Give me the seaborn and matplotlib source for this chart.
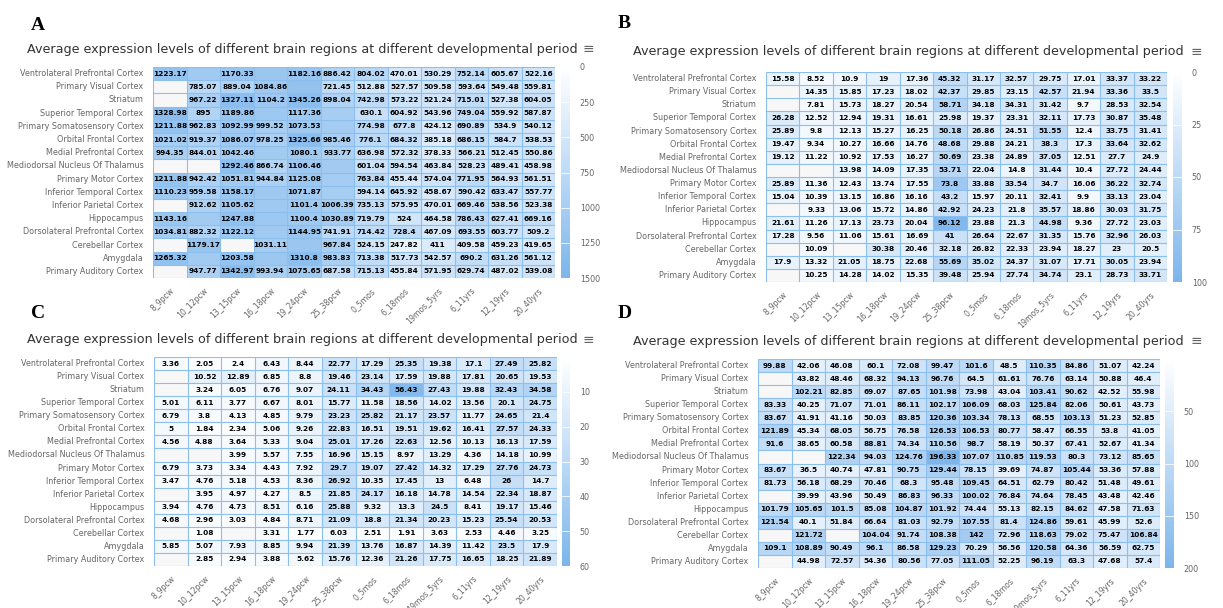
import numpy as np
import pandas as pd
import matplotlib
matplotlib.use("Agg")
import matplotlib.pyplot as plt
import seaborn as sns
from matplotlib.colors import LinearSegmentedColormap

N = np.nan

regions = [
    "Ventrolateral Prefrontal Cortex", "Primary Visual Cortex", "Striatum",
    "Superior Temporal Cortex", "Primary Somatosensory Cortex", "Orbital Frontal Cortex",
    "Medial Prefrontal Cortex", "Mediodorsal Nucleus Of Thalamus", "Primary Motor Cortex",
    "Inferior Temporal Cortex", "Inferior Parietal Cortex", "Hippocampus",
    "Dorsolateral Prefrontal Cortex", "Cerebellar Cortex", "Amygdala",
    "Primary Auditory Cortex",
]
periods = ["8_9pcw", "10_12pcw", "13_15pcw", "16_18pcw", "19_24pcw", "25_38pcw",
           "0_5mos", "6_18mos", "19mos_5yrs", "6_11yrs", "12_19yrs", "20_40yrs"]

title_text = "Average expression levels of different brain regions at different developmental period"

a_values = [
    [1223.17, 1080.00, 1170.33, 1150.00, 1182.16, 886.42, 804.02, 470.01, 530.29, 752.14, 605.67, 522.16],
    [N, 785.07, 889.04, 1084.86, 1230.00, 721.45, 512.88, 527.57, 509.58, 593.64, 549.48, 559.81],
    [N, 967.22, 1327.11, 1104.2, 1345.26, 898.04, 742.98, 573.22, 521.24, 715.01, 527.38, 604.05],
    [1328.98, 895, 1189.86, 1120.00, 1117.36, 1010.00, 630.1, 604.92, 543.96, 749.04, 559.92, 587.87],
    [1211.88, 962.83, 1092.99, 999.52, 1073.53, 1040.00, 774.98, 677.8, 424.12, 690.89, 534.9, 540.12],
    [1021.02, 919.37, 1086.07, 978.25, 1325.66, 985.46, 776.1, 684.32, 385.18, 686.15, 584.7, 538.53],
    [994.35, 844.01, 1042.46, 1060.00, 1080.1, 933.77, 636.98, 572.32, 378.33, 566.21, 512.45, 550.86],
    [N, N, 1292.46, 866.74, 1106.46, 1050.00, 601.04, 594.54, 463.84, 528.23, 489.41, 458.98],
    [1211.88, 942.42, 1051.81, 944.84, 1125.08, 1030.00, 763.84, 455.44, 574.04, 771.95, 564.93, 561.51],
    [1110.23, 959.58, 1158.17, 1100.00, 1071.87, 1020.00, 594.14, 645.92, 458.67, 590.42, 633.47, 557.77],
    [N, 912.62, 1105.62, 1090.00, 1101.4, 1006.39, 735.13, 575.95, 470.01, 669.46, 538.56, 523.38],
    [1143.16, 1060.00, 1247.88, 1120.00, 1100.4, 1030.89, 719.79, 524, 464.58, 786.43, 627.41, 669.16],
    [1034.81, 882.32, 1122.12, 1080.00, 1144.95, 741.91, 714.42, 728.4, 467.09, 693.55, 603.77, 509.2],
    [N, 1179.17, N, 1031.11, 1150.00, 967.84, 524.15, 247.82, 411, 409.58, 459.23, 419.65],
    [1265.32, 1050.00, 1203.58, 1130.00, 1310.8, 983.83, 713.38, 517.73, 542.57, 690.2, 631.26, 561.12],
    [N, 947.77, 1342.97, 993.94, 1075.65, 687.58, 715.13, 455.84, 571.95, 629.74, 487.02, 539.08],
]
# cells whose data label is suppressed because it collides with its neighbour
a_hidden_labels = [(0, 1), (0, 3), (1, 4), (3, 3), (3, 5), (4, 5), (6, 3), (7, 5), (8, 5),
                   (9, 3), (9, 5), (10, 3), (11, 1), (11, 3), (12, 3), (13, 4), (14, 1), (14, 3)]

b_values = [
    [15.58, 8.52, 10.9, 19, 17.36, 45.32, 31.17, 32.57, 29.75, 17.01, 33.37, 33.22],
    [N, 14.35, 15.85, 17.23, 18.02, 42.37, 29.85, 23.15, 42.57, 21.94, 33.36, 33.5],
    [N, 7.81, 15.73, 18.27, 20.54, 58.71, 34.18, 34.31, 31.42, 9.7, 28.53, 32.54],
    [26.28, 12.52, 12.94, 19.31, 16.61, 25.98, 19.37, 23.31, 32.11, 17.73, 30.87, 35.48],
    [25.89, 9.8, 12.13, 15.27, 16.25, 50.18, 26.86, 24.51, 51.55, 12.4, 33.75, 31.41],
    [19.47, 9.34, 10.27, 16.66, 14.76, 48.68, 29.88, 24.21, 38.3, 17.3, 33.64, 32.62],
    [19.12, 11.22, 10.92, 17.53, 16.27, 50.69, 23.38, 24.89, 37.05, 12.51, 27.7, 24.9],
    [N, N, 13.98, 14.09, 17.35, 53.71, 22.04, 14.8, 31.44, 10.4, 27.72, 24.44],
    [25.89, 11.36, 12.43, 13.74, 17.55, 73.8, 33.88, 33.54, 34.7, 16.06, 36.22, 32.74],
    [15.04, 10.39, 13.15, 16.86, 16.16, 43.2, 15.97, 20.11, 32.41, 9.9, 33.13, 23.04],
    [N, 9.33, 13.06, 15.72, 14.86, 42.92, 24.23, 21.8, 35.57, 18.86, 30.03, 31.75],
    [21.61, 11.26, 17.13, 23.73, 20.04, 96.12, 23.88, 21.3, 44.98, 9.36, 27.72, 23.03],
    [17.28, 9.56, 11.06, 15.61, 16.69, 41, 26.64, 22.67, 31.35, 15.76, 32.96, 26.03],
    [N, 10.09, N, 30.38, 20.46, 32.18, 26.82, 22.33, 23.94, 18.27, 23, 20.5],
    [17.9, 13.32, 21.05, 18.75, 22.68, 55.69, 35.02, 24.37, 31.07, 17.71, 30.05, 23.94],
    [N, 10.25, 14.28, 14.02, 15.35, 39.48, 25.94, 27.74, 34.74, 23.1, 28.73, 33.71],
]

c_values = [
    [3.36, 2.05, 2.4, 6.43, 8.44, 22.77, 17.29, 25.35, 19.38, 17.1, 27.49, 25.82],
    [N, 10.52, 12.89, 6.85, 8.8, 19.46, 23.14, 17.59, 19.88, 17.81, 20.65, 19.53],
    [N, 3.24, 6.05, 6.76, 9.07, 24.11, 34.43, 56.43, 27.43, 19.88, 32.43, 34.58],
    [5.01, 6.11, 3.77, 6.67, 8.01, 15.77, 11.58, 18.56, 14.02, 13.56, 20.1, 24.75],
    [6.79, 3.8, 4.13, 4.85, 9.79, 23.23, 25.82, 21.17, 23.57, 11.77, 24.65, 21.4],
    [5, 1.84, 2.34, 5.06, 9.26, 22.83, 16.51, 19.51, 19.62, 16.41, 27.57, 24.33],
    [4.56, 4.88, 3.64, 5.33, 9.04, 25.01, 17.26, 22.63, 12.56, 10.13, 16.13, 17.59],
    [N, N, 3.99, 5.57, 7.55, 16.96, 15.15, 8.97, 13.29, 4.36, 14.18, 10.99],
    [6.79, 3.73, 3.34, 4.43, 7.92, 29.7, 19.07, 27.42, 14.32, 17.29, 27.76, 24.73],
    [3.47, 4.76, 5.18, 4.53, 8.36, 26.92, 10.35, 17.45, 13, 6.48, 26, 14.7],
    [N, 3.95, 4.97, 4.27, 8.5, 21.85, 24.17, 16.18, 14.78, 14.54, 22.34, 18.87],
    [3.94, 4.76, 4.73, 8.51, 6.16, 25.88, 9.32, 13.3, 24.5, 8.41, 19.17, 15.46],
    [4.68, 2.96, 3.03, 4.84, 8.71, 21.09, 18.8, 21.34, 20.23, 15.23, 25.54, 20.53],
    [N, 1.08, N, 3.31, 1.77, 6.03, 2.51, 1.91, 3.63, 2.53, 4.46, 3.25],
    [5.85, 5.07, 7.93, 8.85, 9.94, 21.39, 13.76, 16.87, 14.39, 11.42, 23.5, 17.9],
    [N, 2.85, 2.94, 3.88, 5.62, 15.76, 12.36, 21.26, 17.75, 16.65, 18.25, 21.89],
]

d_values = [
    [99.88, 42.06, 46.08, 60.1, 72.08, 99.47, 101.6, 48.5, 110.35, 84.86, 51.07, 42.24],
    [N, 43.82, 48.46, 68.32, 94.13, 96.76, 64.5, 61.61, 76.76, 63.14, 50.88, 46.4],
    [N, 102.21, 82.85, 69.07, 87.65, 101.98, 73.98, 43.04, 103.41, 90.62, 42.52, 55.98],
    [83.33, 40.25, 71.07, 71.01, 86.11, 102.17, 106.09, 68.03, 125.84, 82.06, 50.61, 43.73],
    [83.67, 41.91, 41.16, 50.03, 83.85, 120.36, 103.34, 78.13, 68.55, 103.13, 51.23, 52.85],
    [121.89, 45.34, 68.05, 56.75, 76.58, 126.53, 106.53, 80.77, 58.47, 66.55, 53.8, 41.05],
    [91.6, 38.65, 60.58, 88.81, 74.34, 110.56, 98.7, 58.19, 50.37, 67.41, 52.67, 41.34],
    [N, N, 122.34, 94.03, 124.76, 196.33, 107.07, 110.85, 119.53, 80.3, 73.12, 85.65],
    [83.67, 36.5, 40.74, 47.81, 90.75, 129.44, 78.15, 39.69, 74.87, 105.44, 53.36, 57.88],
    [81.73, 56.18, 68.29, 70.46, 68.3, 95.48, 109.45, 64.51, 62.79, 80.42, 51.48, 49.61],
    [N, 39.99, 43.96, 50.49, 86.83, 96.33, 100.02, 76.84, 74.64, 78.45, 43.48, 42.46],
    [101.79, 105.65, 101.5, 85.08, 104.87, 101.92, 74.44, 55.13, 82.15, 84.62, 47.58, 71.63],
    [121.54, 40.1, 51.84, 66.64, 81.03, 92.79, 107.55, 81.4, 124.86, 59.61, 45.99, 52.6],
    [N, 121.72, N, 104.04, 91.74, 108.38, 142, 72.96, 118.63, 79.02, 75.47, 106.84],
    [109.1, 108.89, 90.49, 96.1, 86.58, 129.23, 70.29, 56.56, 120.58, 64.36, 56.59, 62.75],
    [N, 44.98, 72.57, 54.36, 80.56, 77.05, 111.05, 52.25, 96.19, 63.3, 47.68, 57.4],
]

a_ticks = [0, 250, 500, 750, 1000, 1250, 1500]
b_ticks = [0, 25, 50, 75, 100]
c_ticks = [10, 20, 30, 40, 50, 60]
d_ticks = [50, 100, 150, 200]

sns.set_theme(style="white")
plt.rcParams["font.family"] = ["DejaVu Sans"]

W, H = 1223, 608
fig = plt.figure(figsize=(W / 100, H / 100), dpi=100)
fig.patch.set_facecolor("white")

cmap = LinearSegmentedColormap.from_list("hc_blue", ["#ffffff", "#7cb5ec"])
GRID = "#8dbfee"
LABEL = "#666666"


def px_rect(l, t, r, b):
    return [l / W, 1 - b / H, (r - l) / W, (b - t) / H]


def fmt_value(v):
    return f"{v:.2f}".rstrip("0").rstrip(".")


def draw_panel(letter, values, vmax, ticks, hidden, box):
    df = pd.DataFrame(values, index=regions, columns=periods)
    labels = np.array([["" if np.isnan(v) else fmt_value(v) for v in row] for row in values],
                      dtype=object)
    for r, c in hidden:
        labels[r, c] = ""

    ax = fig.add_axes(px_rect(*box["heat"]))
    cax = fig.add_axes(px_rect(box["cbar"][0], box["heat"][1], box["cbar"][1], box["heat"][3]))
    ax.set_facecolor("#f7f7f7")

    sns.heatmap(df, ax=ax, cbar_ax=cax, cmap=cmap, vmin=0, vmax=vmax,
                annot=labels, fmt="", linewidths=0,
                annot_kws={"color": "black", "fontsize": 5.3, "fontweight": "bold"},
                cbar_kws={"ticks": ticks},
                xticklabels=periods, yticklabels=regions)

    nr, nc = df.shape
    ax.hlines(np.arange(nr + 1), 0, nc, color=GRID, lw=0.8)
    ax.vlines(np.arange(nc + 1), 0, nr, color=GRID, lw=0.8)

    ax.tick_params(axis="y", length=0, pad=7, labelsize=5.8, labelcolor=LABEL)
    ax.tick_params(axis="x", length=0, pad=6, labelsize=5.6, labelcolor=LABEL)
    plt.setp(ax.get_yticklabels(), rotation=0)
    plt.setp(ax.get_xticklabels(), rotation=45, ha="right", rotation_mode="anchor")
    ax.set_xlabel("")
    ax.set_ylabel("")

    cbar = ax.collections[0].colorbar
    cbar.outline.set_visible(False)
    cax.invert_yaxis()
    cax.tick_params(length=0, pad=7, labelsize=5.8, labelcolor=LABEL)
    for t in ticks:
        cax.axhline(t, color="white", lw=0.7, alpha=0.8)

    lx, ly = box["letter"]
    fig.text(lx / W, 1 - ly / H, letter, fontsize=14, fontweight="bold",
             family="Liberation Serif", color="black", ha="left", va="baseline")
    tx, ty = box["title"]
    fig.text(tx / W, 1 - ty / H, title_text, fontsize=9.2, color="#333333",
             ha="center", va="center")
    mx = box["menu"]
    fig.text(mx / W, 1 - ty / H, "\u2261", fontsize=10, color=LABEL, ha="center", va="center")


layouts = {
    "A": {"heat": (153, 67, 555, 278), "cbar": (561, 570), "letter": (31, 30), "title": (302, 49), "menu": 588},
    "B": {"heat": (766, 72, 1167, 282), "cbar": (1173, 1182), "letter": (618, 28), "title": (908, 52), "menu": 1196},
    "C": {"heat": (154, 357, 557, 566), "cbar": (562, 570), "letter": (31, 318), "title": (302, 340), "menu": 588},
    "D": {"heat": (758, 359, 1160, 568), "cbar": (1165, 1174), "letter": (618, 318), "title": (908, 341), "menu": 1196},
}

draw_panel("A", a_values, 1500, a_ticks, a_hidden_labels, layouts["A"])
draw_panel("B", b_values, 100, b_ticks, [], layouts["B"])
draw_panel("C", c_values, 60, c_ticks, [], layouts["C"])
draw_panel("D", d_values, 200, d_ticks, [], layouts["D"])

fig.savefig("out.png", dpi=100, facecolor="white")
